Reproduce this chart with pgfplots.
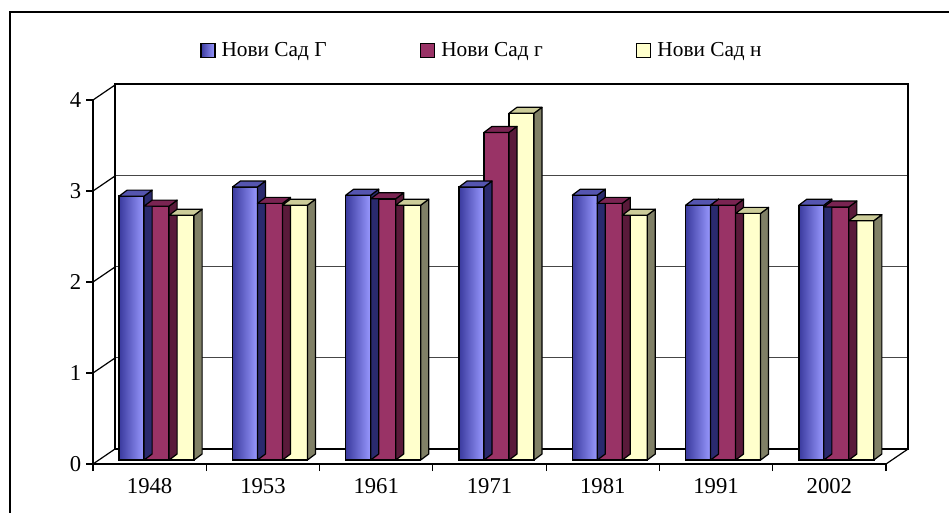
\documentclass[border=0pt]{standalone}
\usepackage{pgfplots}
\usepackage{pgfplotstable}
\pgfplotsset{compat=1.18}
\usepackage{fontspec}
\setmainfont{Liberation Serif}
\definecolor{blueL}{RGB}{153,153,255}
\definecolor{blueD}{RGB}{58,58,158}
\definecolor{blueT}{RGB}{85,85,175}
\definecolor{blueS}{RGB}{42,42,110}
\definecolor{redF}{RGB}{153,51,102}
\definecolor{redT}{RGB}{122,36,82}
\definecolor{redS}{RGB}{90,26,58}
\definecolor{yelF}{RGB}{255,255,204}
\definecolor{yelT}{RGB}{204,204,153}
\definecolor{yelS}{RGB}{128,128,102}
\definecolor{gridc}{RGB}{70,70,70}
\pgfdeclareplotmark{empty}{}

\pgfplotstableread{
x G g n
0 2.90 2.79 2.69
1 3.00 2.82 2.80
2 2.91 2.87 2.80
3 3.00 3.60 3.81
4 2.91 2.82 2.69
5 2.80 2.80 2.71
6 2.80 2.78 2.63
}\data

% 3D side and top faces of the bars: #1 column, #2 bar shift (pt), #3 top colour, #4 side colour
\newcommand{\faces}[4]{%
\addplot[scatter, only marks, mark=empty, forget plot,
  visualization depends on={\thisrow{#1} \as \yv},
  scatter/@pre marker code/.code={%
    \pgfmathsetmacro\hh{\yv*68.25}%
    \pgfmathsetmacro\Lx{#2-9.375}\pgfmathsetmacro\Rx{#2+9.375}%
    \filldraw[fill=#4, draw=black, line width=0.9pt, line join=round]
      (\Rx pt,{3pt-\hh pt}) -- ({\Rx pt+6pt},{7.5pt-\hh pt}) -- ({\Rx pt+6pt},7.5pt) -- (\Rx pt,3pt) -- cycle;
    \filldraw[fill=#3, draw=black, line width=0.9pt, line join=round]
      (\Lx pt,3pt) -- ({\Lx pt+6pt},7.5pt) -- ({\Rx pt+6pt},7.5pt) -- (\Rx pt,3pt) -- cycle;
  },
  scatter/@post marker code/.code={}]
  table[x=x,y=#1]{\data};
}

\begin{document}
\begin{tikzpicture}
\useasboundingbox (0,0) rectangle (711.75pt,384pt);
\draw[line width=0.8pt] (7.5pt,-1pt) -- (7.5pt,375pt) -- (712pt,375pt);
% back wall
\begin{axis}[at={(86.25pt,47.25pt)}, anchor=south west, scale only axis,
  width=594.75pt, height=273.75pt,
  xmin=-0.5, xmax=6.5, ymin=0, ymax=4,
  axis line style={line width=1.4pt, black},
  xtick=\empty, ytick={1,2,3}, yticklabels={},
  major tick length=0pt,
  ymajorgrids, grid style={gridc, line width=0.8pt}]
\end{axis}
% front
\begin{axis}[at={(69.75pt,36pt)}, anchor=south west, scale only axis,
  width=594.75pt, height=273pt,
  xmin=-0.5, xmax=6.5, ymin=0, ymax=4,
  axis x line*=bottom, axis y line*=left,
  axis line style={line width=1pt, black, -},
  tick align=outside, major tick length=5.25pt,
  tick style={black, line width=0.8pt},
  xtick={-0.5,0.5,...,6.5}, xticklabels={},
  extra x ticks={0,1,2,3,4,5,6},
  extra x tick labels={1948,1953,1961,1971,1981,1991,2002},
  extra x tick style={major tick length=0pt, xticklabel style={yshift=-7.5pt}},
  ytick={0,1,2,3,4},
  /pgf/number format/assume math mode=true,
  ticklabel style={font=\fontsize{17}{20}\selectfont},
  clip=false,
  legend columns=3,
  legend style={at={(0.135,1.137)}, anchor=west, draw=none, fill=none, inner sep=0pt,
    font=\fontsize{16}{19}\selectfont,
    /tikz/every even column/.append style={column sep=68pt}},
  legend image code/.code={\draw[#1, line width=0.9pt] (0pt,-5.25pt) rectangle (10.5pt,5.25pt);
    \path (13pt,0pt) node[inner sep=0pt, draw=none, fill=none]{};},
  ]
\pgfplotsinvokeforeach{0,1,2,3,4}{\draw[black, line width=0.9pt] (axis cs:-0.5,#1) -- ++(16.5pt,11.25pt);}
\draw[black, line width=0.9pt] (axis cs:6.5,0) -- ++(16.5pt,11.25pt);
% blue
\faces{G}{-13.5}{blueT}{blueS}
\pgfplotsinvokeforeach{-0.1:0.1,0.9:1.1,1.9:2.1,2.9:3.1,3.9:4.1,4.9:5.1,5.9:6.1}{
\addplot[ybar, bar width=18.75pt, bar shift=-13.5pt, left color=blueD, right color=blueL,
  draw=black, line width=1pt, yshift=3pt, forget plot, restrict x to domain=#1]
  table[x=x,y=G]{\data};
}
% red
\faces{g}{5.25}{redT}{redS}
\addplot[ybar, bar width=18.75pt, bar shift=5.25pt, fill=redF, draw=black, line width=1pt,
  yshift=3pt, forget plot] table[x=x,y=g]{\data};
% yellow
\faces{n}{24}{yelT}{yelS}
\addplot[ybar, bar width=18.75pt, bar shift=24pt, fill=yelF, draw=black, line width=1pt,
  yshift=3pt, forget plot] table[x=x,y=n]{\data};
\addlegendimage{left color=blueD, right color=blueL, draw=black}
\addlegendimage{fill=redF, draw=black}
\addlegendimage{fill=yelF, draw=black}
\legend{Нови Сад Г, Нови Сад г, Нови Сад н}
\end{axis}
\end{tikzpicture}
\end{document}
